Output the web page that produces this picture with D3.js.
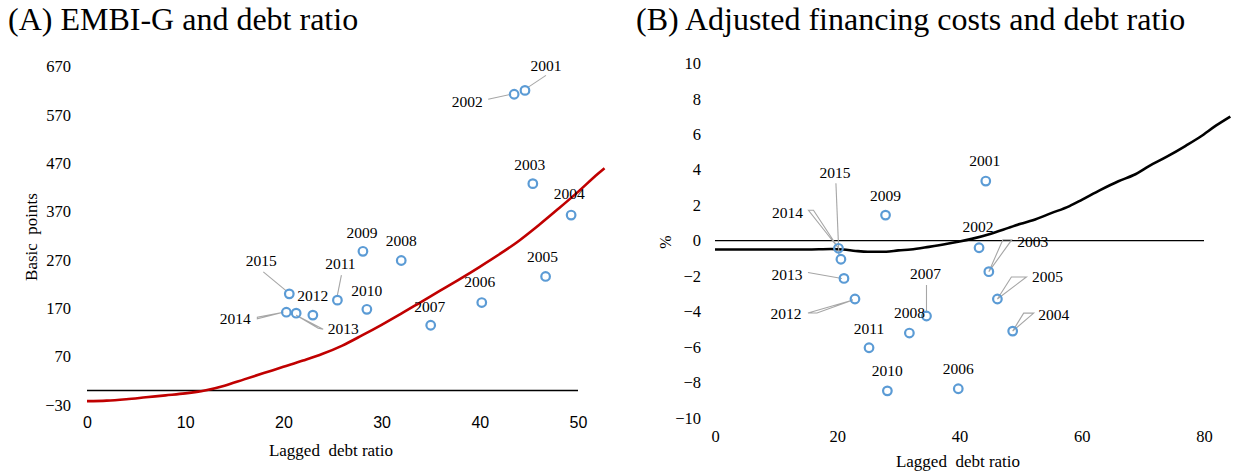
<!DOCTYPE html>
<html><head><meta charset="utf-8">
<script src="https://cdn.jsdelivr.net/npm/d3@7"></script>
<style>
body{margin:0;background:#fff}
svg{display:block}
</style></head>
<body><svg id="c" width="1233" height="474"></svg>
<script>
// ---------- data ----------
const years = [2001,2002,2003,2004,2005,2006,2007,2008,2009,2010,2011,2012,2013,2014,2015];
// Panel A: lagged debt ratio vs EMBI-G (basis points)
const debtA = [44.6,43.5,45.4,49.3,46.7,40.2,35.0,32.0,28.1,28.5,25.5,23.0,21.3,20.3,20.6];
const embi  = [621,613,428,363,236,182,135,269,288,168,187,156,160,162,200];
// fitted curve A
const curveAx = [0,2,4,6,8,10,12,14,16,18,20,22,24,26,28,30,32,34,36,38,40,42,44,46,48,50,52,52.7];
const curveAy = [-22,-21,-18,-14,-10,-6,0,10,23,36,49,62,76,93,114,136,159,183,207,231,256,282,310,342,376,411,448,460];
// Panel B: lagged debt ratio vs adjusted financing costs (%)
const debtB = [44.3,43.2,44.8,48.7,46.2,39.8,34.6,31.8,27.9,28.2,25.2,22.9,21.1,20.2,20.6];
const costB = [3.36,-0.4,-1.75,-5.1,-3.29,-8.35,-4.25,-5.21,1.44,-8.47,-6.04,-3.29,-2.13,-0.43,-1.05];
const curveBx = [0,5,10,15,19,21,23,25,28,30,32,35,38,40,42,45,48,50,52,55,58,60,63,66,68.5,71,74,77,79.4,82,84.3];
const curveBy = [-0.5,-0.5,-0.5,-0.5,-0.47,-0.5,-0.58,-0.63,-0.63,-0.55,-0.5,-0.35,-0.18,-0.05,0.1,0.38,0.72,0.95,1.15,1.55,1.95,2.3,2.85,3.35,3.7,4.2,4.75,5.35,5.86,6.5,7.0];
// tick labels
const ticksAy = [-30,70,170,270,370,470,570,670];
const ticksAx = [0,10,20,30,40,50];
const ticksBy = [-10,-8,-6,-4,-2,0,2,4,6,8,10];
const ticksBx = [0,20,40,60,80];

// ---------- layout (label offsets / leaders, px relative to point) ----------
const labA = [[21,-25],[-47,7],[-3,-19],[-2,-21],[-3,-20],[-2,-21],[-1,-19],[0,-20],[-1,-19],[0,-19],[3,-37],[0,-20],[47,15],[-51,6],[-28,-33]];
const leadA = {2001:[[21,-15],[3,-3]],2002:[[-26,5],[-3,0]],2011:[[4,-25],[0,-5]],
  2013:[[0,2],[22,15],[27,16]],2014:[[-29,5],[-29,6.5],[-3,0]],2015:[[-26,-22],[-3,-3]]};
const labB = [[-1,-20],[-1,-21],[44,-30],[41,-17],[50,-22],[0,-20],[-1,-42],[0,-20],[0,-20],[0,-20],[0,-19],[-69,15],[-57,-4],[-51,-36],[-6,-87]];
const leadB = {2003:[[0,0],[14,-32],[23,-32]],2005:[[0,0],[14,-22],[29,-22]],2004:[[0,0],[11,-18],[21,-18]],
  2007:[[0,-31],[0,-3]],2012:[[-47,14],[-38,14],[-2,1]],2013:[[-36,-6],[-2,0]],
  2014:[[-30,-38],[-25,-38],[0,0]],2015:[[-5,-76],[-2,-4]]};

const svg = d3.select("#c");
const blue = "#5B9BD5", gray = "#A6A6A6";
const SERIF = '"Liberation Serif","Times New Roman",serif';
const SANS = '"Liberation Sans",Arial,sans-serif';

function panel(o){
  const g = svg.append("g");
  // zero line
  g.append("line").attr("x1",o.x(o.xd[0])).attr("x2",o.x(o.xd[1]))
    .attr("y1",o.y(0)).attr("y2",o.y(0)).attr("stroke","#000").attr("stroke-width",1.4);
  // curve
  const pts = o.cx.map((v,i)=>[v,o.cy[i]]);
  g.append("path").datum(pts)
    .attr("d",d3.line().x(d=>o.x(d[0])).y(d=>o.y(d[1])).curve(d3.curveMonotoneX))
    .attr("fill","none").attr("stroke",o.color).attr("stroke-width",2.6);
  // axes (labels only)
  const ay = g.append("g").attr("transform",`translate(${o.yAxisX},0)`)
    .call(d3.axisLeft(o.y).tickValues(o.ty).tickSize(0).tickPadding(0).tickFormat(d3.format("d")));
  ay.attr("font-family",null).attr("font-size",null);
  ay.select(".domain").remove();
  ay.selectAll("text").attr("font-size",16.5).attr("fill","#000").style("font-family",SERIF);
  const ax = g.append("g").attr("transform",`translate(0,${o.xAxisY})`)
    .call(d3.axisBottom(o.x).tickValues(o.tx).tickSize(0).tickPadding(0).tickFormat(d3.format("d")));
  ax.attr("font-family",null).attr("font-size",null);
  ax.select(".domain").remove();
  ax.selectAll("text").attr("font-size",o.xFontSize).attr("fill","#000").style("font-family",o.xFont);
  // leaders
  o.debt.forEach((d,i)=>{
    const L = o.lead[o.years[i]]; if(!L) return;
    const px = o.x(d), py = o.y(o.val[i]);
    const p = L.map(q=>[px+q[0],py+q[1]]);
    g.append("path").attr("d", (L.length>2? d3.line()(p)+"Z" : d3.line()(p)))
      .attr("fill","none").attr("stroke",gray).attr("stroke-width",1.1);
  });
  // points
  g.selectAll("circle.pt").data(o.debt).join("circle").attr("class","pt")
    .attr("cx",d=>o.x(d)).attr("cy",(d,i)=>o.y(o.val[i])).attr("r",4.3)
    .attr("fill","none").attr("stroke",blue).attr("stroke-width",2.2);
  // labels
  g.selectAll("text.lab").data(o.debt).join("text").attr("class","lab")
    .attr("x",(d,i)=>o.x(d)+o.lab[i][0]).attr("y",(d,i)=>o.y(o.val[i])+o.lab[i][1])
    .attr("text-anchor","middle").attr("dy","0.35em").attr("font-size",15.5)
    .style("font-family",SERIF).attr("fill","#000")
    .text((d,i)=>o.years[i]);
  // titles
  g.append("text").style("font-family",SERIF).attr("x",o.titleX).attr("y",30).attr("font-size",32).text(o.title);
  g.append("text").style("font-family",SERIF).attr("x",o.xtX).attr("y",o.xtY).attr("text-anchor","middle")
    .attr("font-size",17).style("white-space","pre").text("Lagged  debt ratio");
  g.append("text").style("font-family",SERIF).attr("transform",`translate(${o.ytX},${o.ytY}) rotate(-90)`)
    .attr("text-anchor","middle").attr("dy","0.35em").attr("font-size",o.ytSize).style("white-space","pre").text(o.ytitle);
}

panel({
  x: d3.scaleLinear([0,50],[87,578]), y: d3.scaleLinear([-30,670],[405,66.7]),
  xd:[0,50], cx:curveAx, cy:curveAy, color:"#C00000",
  ty:ticksAy, tx:ticksAx, yAxisX:71, xAxisY:417, xFont:SANS, xFontSize:16,
  debt:debtA, val:embi, years:years, lab:labA, lead:leadA,
  title:"(A) EMBI-G and debt ratio", titleX:8, xtX:331, xtY:456,
  ytitle:"Basic  points", ytX:31, ytY:237, ytSize:17
});
panel({
  x: d3.scaleLinear([0,80],[715,1204]), y: d3.scaleLinear([-10,10],[418,63.3]),
  xd:[0,80], cx:curveBx, cy:curveBy, color:"#000",
  ty:ticksBy, tx:ticksBx, yAxisX:701, xAxisY:430, xFont:SERIF, xFontSize:16.5,
  debt:debtB, val:costB, years:years, lab:labB, lead:leadB,
  title:"(B) Adjusted financing costs and debt ratio", titleX:636, xtX:958, xtY:467,
  ytitle:"%", ytX:665, ytY:242, ytSize:16
});
</script></body></html>
